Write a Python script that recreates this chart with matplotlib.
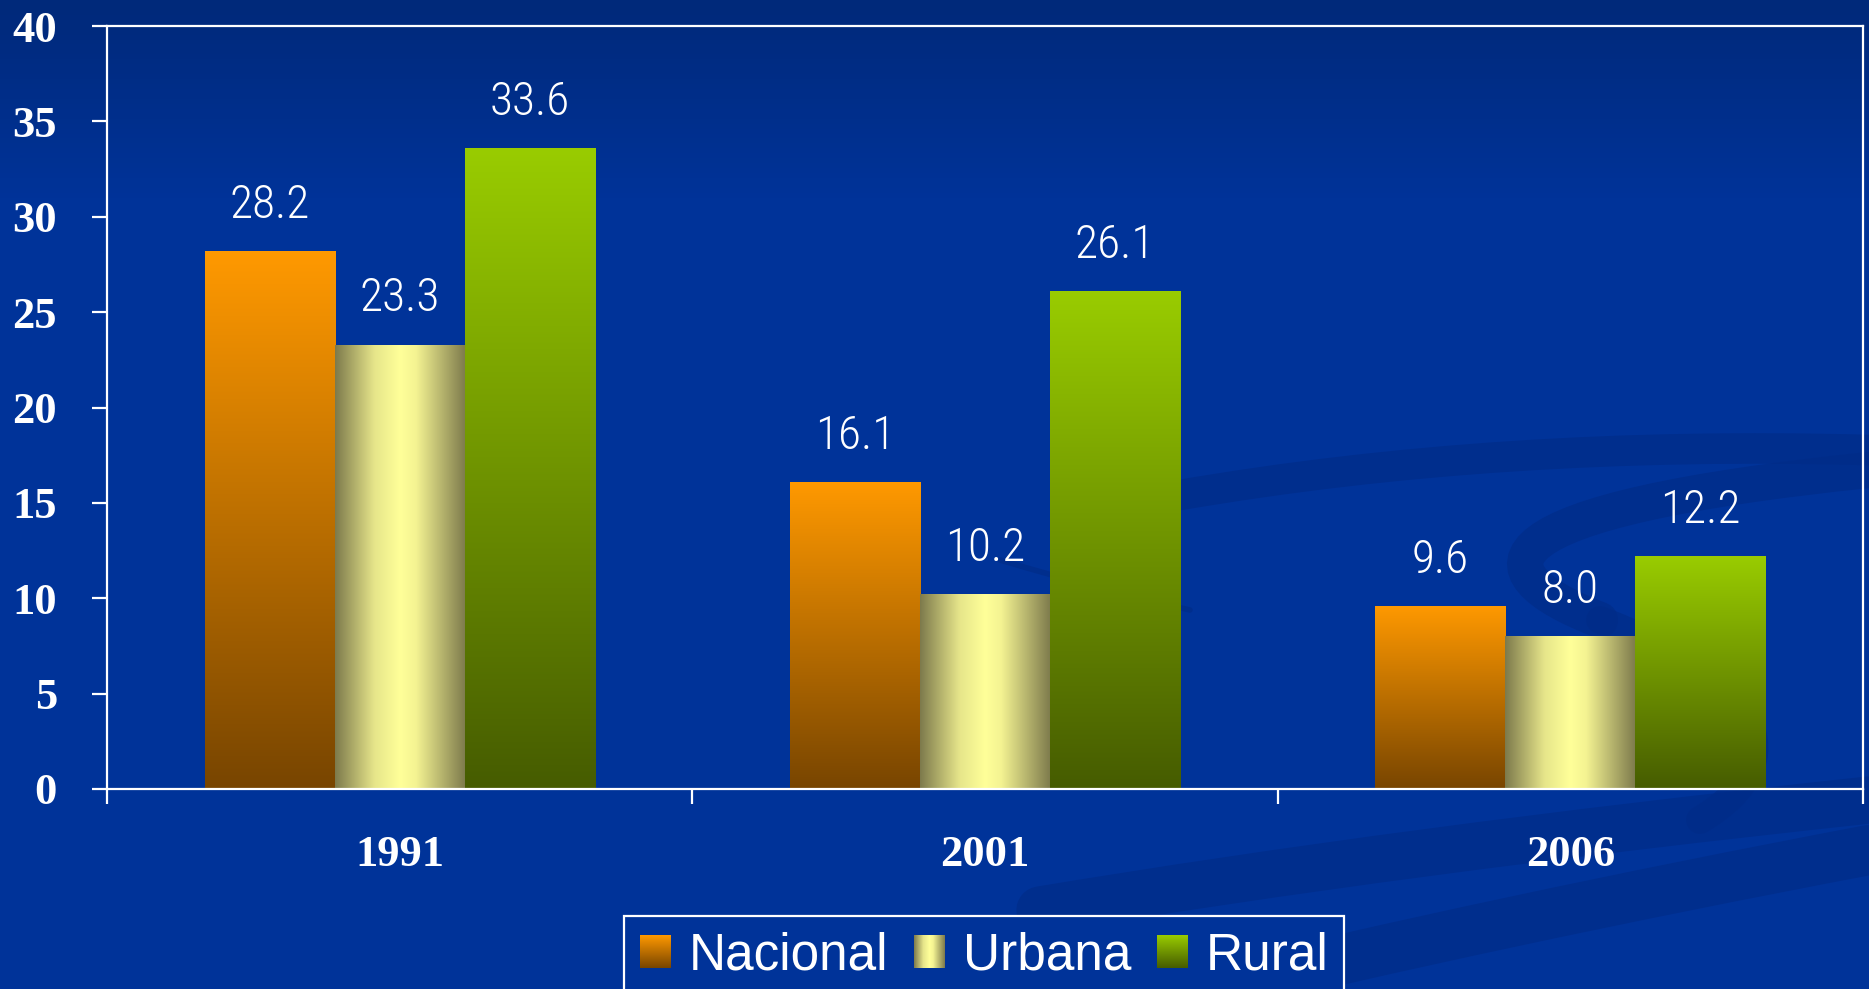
import numpy as np
import matplotlib
matplotlib.use("Agg")
import matplotlib.pyplot as plt
from matplotlib import font_manager as fm
from matplotlib.colors import LinearSegmentedColormap, to_rgb
from matplotlib.legend_handler import HandlerBase
from matplotlib.image import BboxImage
from matplotlib.transforms import Bbox, TransformedBbox
from matplotlib.path import Path
from matplotlib.patches import PathPatch

years = ["1991", "2001", "2006"]
series = ["Nacional", "Urbana", "Rural"]
nacional = [28.2, 16.1, 9.6]
urbana = [23.3, 10.2, 8.0]
rural = [33.6, 26.1, 12.2]
yticks = [0, 5, 10, 15, 20, 25, 30, 35, 40]

W, H = 1869, 989
BG = "#003399"


# pick a narrow, light sans for the value labels, if one is installed
def narrow_font():
    prefs = ["Liberation Sans Narrow", "Roboto Condensed", "Noto Sans", "Open Sans",
             "Noto Sans Condensed", "Open Sans Condensed", "DejaVu Sans"]
    best = None
    for f in fm.fontManager.ttflist:
        nm = f.name
        fn = f.fname.lower()
        narrow = ("narrow" in nm.lower() or "condensed" in nm.lower()
                  or "condensed" in str(f.stretch) or "narrow" in fn or "condensed" in fn)
        if not narrow or f.style != "normal":
            continue
        if "extra" in fn or "ultra" in fn or "semi" in fn:
            continue
        if f.weight in ("light", 300):
            wrank = 0
        elif f.weight in ("normal", "regular", 400, "book"):
            wrank = 1
        else:
            continue
        rank = (next((i for i, p in enumerate(prefs) if nm.startswith(p)), len(prefs)), wrank)
        if best is None or rank < best[0]:
            best = (rank, f.fname)
    if best is None:
        return fm.FontProperties(family="DejaVu Sans", stretch="condensed")
    return fm.FontProperties(fname=best[1])


lab_prop = narrow_font()
lab_prop.set_size(34)


def vgrad(top, bottom, n=256):
    t = np.linspace(0, 1, n)[:, None]
    a, b = np.array(to_rgb(top)), np.array(to_rgb(bottom))
    return a * (1 - t[..., None]) + b * t[..., None]


def hgrad(stops, colors, n=256):
    cm = LinearSegmentedColormap.from_list("g", list(zip(stops, colors)))
    row = cm(np.linspace(0, 1, n))[:, :3]
    return row[None, :, :]


grads = {
    "Nacional": vgrad("#ff9900", "#784500"),
    "Urbana": hgrad([0, 0.3, 0.5, 0.62, 1.0],
                    ["#7d7a4c", "#e6e58a", "#ffff99", "#f4f392", "#7d7a4c"]),
    "Rural": vgrad("#99cc00", "#465c00"),
}


class GradHandler(HandlerBase):
    def __init__(self, arr):
        super().__init__()
        self.arr = arr

    def create_artists(self, legend, orig_handle, xdescent, ydescent,
                       width, height, fontsize, trans):
        bb = TransformedBbox(Bbox.from_bounds(-xdescent, -ydescent, width, height), trans)
        im = BboxImage(bb, interpolation="bilinear")
        im.set_data(self.arr)
        return [im]


fig = plt.figure(figsize=(W / 100, H / 100), dpi=100)

# background with soft gradient and a few dark swooshes
bg = fig.add_axes([0, 0, 1, 1], zorder=-10)
yy = np.linspace(0, 1, 200)[:, None]
top_c, mid_c = np.array(to_rgb("#00297a")), np.array(to_rgb(BG))
t = np.clip(yy / 0.2, 0, 1)
bgarr = top_c * (1 - t[..., None]) + mid_c * t[..., None]
bg.imshow(np.repeat(bgarr, 2, axis=1), extent=[0, W, H, 0], aspect="auto")
bg.set_xlim(0, W)
bg.set_ylim(H, 0)
bg.axis("off")

sw = "#002c88"
curves = [
    ([(1180, 495), (1500, 440), (1869, 450)], 22),
    ([(1869, 470), (1480, 510), (1470, 570), (1600, 620)], 26),
    ([(1600, 620), (1760, 680), (1800, 760), (1700, 820)], 20),
    ([(1040, 910), (1400, 850), (1869, 800)], 34),
    ([(1190, 995), (1500, 920), (1869, 850)], 36),
    ([(1000, 560), (1100, 590), (1190, 610)], 4),
]
for pts, lw in curves:
    codes = [Path.MOVETO] + ([Path.CURVE3] * 2 if len(pts) == 3 else [Path.CURVE4] * 3)
    bg.add_patch(PathPatch(Path(pts, codes), fill=False, edgecolor=sw,
                           lw=lw, alpha=0.7, capstyle="round"))

ax = fig.add_axes([107 / W, 1 - 789 / H, (1863 - 107) / W, (789 - 26) / H])
ax.set_facecolor("none")

x = np.arange(len(years))
bw = 2 / 9
vals = {"Nacional": nacional, "Urbana": urbana, "Rural": rural}
containers = {}
for i, s in enumerate(series):
    bars = ax.bar(x + (i - 1) * bw, vals[s], bw, facecolor="none", edgecolor="none")
    containers[s] = bars
    for p, v in zip(bars.patches, vals[s]):
        x0, w, h = p.get_x(), p.get_width(), p.get_height()
        im = ax.imshow(grads[s], extent=[x0, x0 + w, 0, h], aspect="auto",
                       interpolation="bilinear", zorder=2)
        im.set_clip_path(p)
        ax.annotate(f"{v:.1f}", (x0 + w / 2, h), xytext=(0, 24), textcoords="offset points",
                    ha="center", va="baseline", color="white", fontproperties=lab_prop)

ax.set_xlim(-0.5, 2.5)
ax.set_ylim(0, 40)
ax.set_yticks(yticks)
ax.set_yticklabels([str(v) for v in yticks])
ax.set_xticks(x)
ax.set_xticklabels(years)
ax.set_xticks([-0.5, 0.5, 1.5, 2.5], minor=True)

for sp in ax.spines.values():
    sp.set_color("white")
    sp.set_linewidth(1.6)
    sp.set_zorder(3)

tick_font = dict(family="Liberation Serif", weight="bold", size=32)
ax.tick_params(axis="y", colors="white", direction="out", length=11, width=1.6, pad=25)
ax.tick_params(axis="x", which="major", length=0, pad=33, colors="white")
ax.tick_params(axis="x", which="minor", colors="white", direction="out", length=11, width=1.6)
for lab in ax.get_yticklabels() + ax.get_xticklabels():
    lab.set_fontproperties(fm.FontProperties(**tick_font))
    lab.set_color("white")

handles = [containers[s] for s in series]
leg = fig.legend(handles, series, loc="upper center",
                 bbox_to_anchor=(984 / W, 1 - 916 / H), ncol=3,
                 handler_map={containers[s]: GradHandler(grads[s]) for s in series},
                 prop=fm.FontProperties(family="Liberation Sans", size=37),
                 labelcolor="white", frameon=True, fancybox=False, framealpha=1,
                 facecolor=BG, edgecolor="white", borderpad=0.3, borderaxespad=0,
                 handlelength=0.6, handleheight=0.6, handletextpad=0.35,
                 columnspacing=0.5)
leg.get_frame().set_linewidth(1.6)

fig.savefig("out.png", dpi=100, facecolor=BG)
